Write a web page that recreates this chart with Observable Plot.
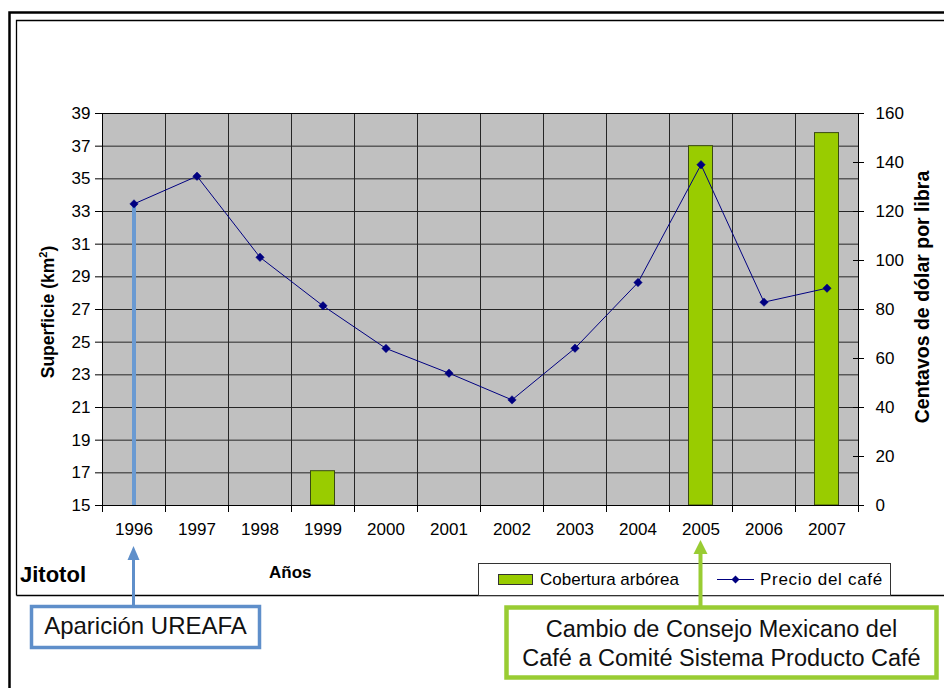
<!DOCTYPE html>
<html>
<head>
<meta charset="utf-8">
<script src="https://cdn.jsdelivr.net/npm/d3@7"></script>
<script src="https://cdn.jsdelivr.net/npm/@observablehq/plot@0.6"></script>
<style>
  html, body { margin: 0; padding: 0; background: #fff; }
  #wrap { position: relative; width: 944px; height: 688px; overflow: hidden; font-family: "Liberation Sans", Arial, sans-serif; }
  #wrap > svg { position: absolute; left: 0; top: 0; }
</style>
</head>
<body>
<div id="wrap"></div>
<script>
// ---- data ----
const years = [1996, 1997, 1998, 1999, 2000, 2001, 2002, 2003, 2004, 2005, 2006, 2007];
const cobertura = [null, null, null, 17.1, null, null, null, null, null, 37.0, null, 37.8]; // km²
const precio = [123.1, 134.4, 101.3, 81.5, 64.1, 54.0, 43.1, 64.2, 91.0, 139.1, 83.0, 88.7]; // centavos de dólar por libra
const leftTicks = [15, 17, 19, 21, 23, 25, 27, 29, 31, 33, 35, 37, 39];
const rightTicks = [0, 20, 40, 60, 80, 100, 120, 140, 160];
const seriesNames = ["Cobertura arbórea", "Precio del café"];
const annotations = [
  { year: 1996, lines: ["Aparición UREAFA"] },
  { year: 2005, lines: ["Cambio de Consejo Mexicano del", "Café a Comité Sistema Producto Café"] }
];

// ---- derived ----
const kmMin = leftTicks[0], kmMax = leftTicks[leftTicks.length - 1];
const priceMax = rightTicks[rightTicks.length - 1];
const toKm = p => kmMin + p * (kmMax - kmMin) / priceMax;
const toPrice = v => Math.round((v - kmMin) * priceMax / (kmMax - kmMin));
const data = years.map((y, i) => ({ year: y, cob: cobertura[i], precio: precio[i] }));
const barData = data.filter(d => d.cob != null);
const bounds = years.map(y => y - 0.5).concat([years[years.length - 1] + 0.5]);

const GREEN = "#99cc00";
const NAVY = "#000080";
const GRID = "#262626";

const chart = Plot.plot({
  width: 944,
  height: 688,
  marginLeft: 102,
  marginRight: 86,
  marginTop: 113,
  marginBottom: 183,
  style: { fontFamily: '"Liberation Sans", Arial, sans-serif', fontSize: "17px", color: "#000", background: "transparent", overflow: "visible" },
  x: { domain: [bounds[0], bounds[bounds.length - 1]] },
  y: { domain: [kmMin, kmMax] },
  marks: [
    Plot.frame({ fill: "#c0c0c0", stroke: null }),
    Plot.gridY(leftTicks, { stroke: GRID, strokeOpacity: 1 }),
    Plot.gridX(bounds, { stroke: GRID, strokeOpacity: 1 }),
    Plot.rectY(barData, {
      x1: d => d.year - 0.5, x2: d => d.year + 0.5,
      y1: kmMin, y2: "cob",
      insetLeft: 19.5, insetRight: 19.5,
      fill: GREEN, stroke: "#3a4a12", strokeWidth: 1
    }),
    Plot.ruleX(data.filter(d => d.year === annotations[0].year), {
      x: "year", y1: kmMin, y2: d => toKm(d.precio), stroke: "#6a9ad2", strokeWidth: 4
    }),
    Plot.line(data, { x: "year", y: d => toKm(d.precio), stroke: NAVY, strokeWidth: 1 }),
    Plot.dot(data, { x: "year", y: d => toKm(d.precio), symbol: "diamond2", r: 3.8, fill: NAVY, stroke: NAVY, strokeWidth: 0.5 }),
    Plot.frame({ stroke: "#000", fill: null }),
    Plot.axisY({ anchor: "left", ticks: leftTicks, tickSize: 7, tickPadding: 5, label: null, tickFormat: d => String(d) }),
    Plot.axisY({ anchor: "right", ticks: rightTicks.map(toKm), tickSize: 5, tickPadding: 12, label: null, tickFormat: v => String(toPrice(v)) }),
    Plot.axisY({ anchor: "right", ticks: rightTicks.map(toKm), tickSize: -6, label: null, tickFormat: () => "" }),
    Plot.axisX({ ticks: bounds, tickSize: 7, label: null, tickFormat: () => "" }),
    Plot.axisX({ ticks: years, tickSize: 0, tickPadding: 17, label: null, tickFormat: d => String(d) })
  ]
});

const wrap = document.getElementById("wrap");
wrap.appendChild(chart);

// ---- overlay: frame, titles, legend, annotations ----
const xs = chart.scale("x");
const ys = chart.scale("y");
const plotTop = ys.apply(kmMax), plotBottom = ys.apply(kmMin);
const plotMid = (plotTop + plotBottom) / 2;
const xAnn0 = xs.apply(annotations[0].year);
const xAnn1 = xs.apply(annotations[1].year);

const NS = "http://www.w3.org/2000/svg";
const ov = document.createElementNS(NS, "svg");
ov.setAttribute("width", 944);
ov.setAttribute("height", 688);
ov.setAttribute("viewBox", "0 0 944 688");
ov.style.fontFamily = '"Liberation Sans", Arial, sans-serif';
wrap.appendChild(ov);

function el(tag, attrs, text) {
  const e = document.createElementNS(NS, tag);
  for (const k in attrs) e.setAttribute(k, attrs[k]);
  if (text != null) e.textContent = text;
  ov.appendChild(e);
  return e;
}

// frames
el("path", { d: "M9.5,700V12.5H960", fill: "none", stroke: "#000", "stroke-width": 2.5 });
el("path", { d: "M16.5,595.5V20.5H960", fill: "none", stroke: "#000", "stroke-width": 1.3 });
el("path", { d: "M16.5,595.5H960", fill: "none", stroke: "#000", "stroke-width": 1.3 });

// axis titles
const t1 = el("text", { x: 0, y: 0, transform: `translate(54,${plotMid + 3}) rotate(-90)`, "text-anchor": "middle", "font-weight": "bold", "font-size": 17.5 });
t1.appendChild(document.createTextNode("Superficie (km"));
const sup = document.createElementNS(NS, "tspan");
sup.setAttribute("font-size", 11);
sup.setAttribute("dy", -7);
sup.textContent = "2";
t1.appendChild(sup);
const close = document.createElementNS(NS, "tspan");
close.setAttribute("dy", 7);
close.textContent = ")";
t1.appendChild(close);

el("text", { x: 0, y: 0, transform: `translate(929,${plotMid - 12}) rotate(-90)`, "text-anchor": "middle", "font-weight": "bold", "font-size": 19.5 }, "Centavos de dólar por libra");

el("text", { x: 20, y: 582, "font-weight": "bold", "font-size": 22 }, "Jitotol");
el("text", { x: 269, y: 578, "font-weight": "bold", "font-size": 17 }, "Años");

// legend
el("rect", { x: 478.5, y: 563.5, width: 412, height: 32, fill: "#fff", stroke: "#333", "stroke-width": 1 });
el("rect", { x: 498.5, y: 574.5, width: 34, height: 10, fill: GREEN, stroke: "#333", "stroke-width": 1 });
el("text", { x: 540, y: 585, "font-size": 17 }, seriesNames[0]);
el("line", { x1: 717, x2: 754, y1: 579.5, y2: 579.5, stroke: NAVY, "stroke-width": 1 });
el("path", { d: "M735.5,575.5l4,4l-4,4l-4,-4z", fill: NAVY });
el("text", { x: 760, y: 585, "font-size": 17, "letter-spacing": "0.7px" }, seriesNames[1]);

// annotation 1 (blue)
const BLUE = "#5f8fca";
el("line", { x1: xAnn0, x2: xAnn0, y1: 606, y2: 558, stroke: BLUE, "stroke-width": 3 });
el("path", { d: `M${xAnn0},546L${xAnn0 - 6},560L${xAnn0 + 6},560Z`, fill: BLUE });
el("rect", { x: 31.5, y: 606.5, width: 228, height: 41, fill: "#fff", stroke: BLUE, "stroke-width": 3.5 });
el("text", { x: 145.5, y: 634, "text-anchor": "middle", "font-size": 24, fill: "#111" }, annotations[0].lines[0]);

// annotation 2 (green)
const LGREEN = "#99cc33";
el("line", { x1: xAnn1, x2: xAnn1, y1: 606, y2: 552, stroke: LGREEN, "stroke-width": 4 });
el("path", { d: `M${xAnn1},540L${xAnn1 - 7},554L${xAnn1 + 7},554Z`, fill: LGREEN });
el("rect", { x: 506.5, y: 607.5, width: 430, height: 70, fill: "#fff", stroke: LGREEN, "stroke-width": 4.5 });
el("text", { x: 721.5, y: 637, "text-anchor": "middle", "font-size": 23.5, fill: "#111" }, annotations[1].lines[0]);
el("text", { x: 721.5, y: 666, "text-anchor": "middle", "font-size": 23.5, fill: "#111" }, annotations[1].lines[1]);
</script>
</body>
</html>
